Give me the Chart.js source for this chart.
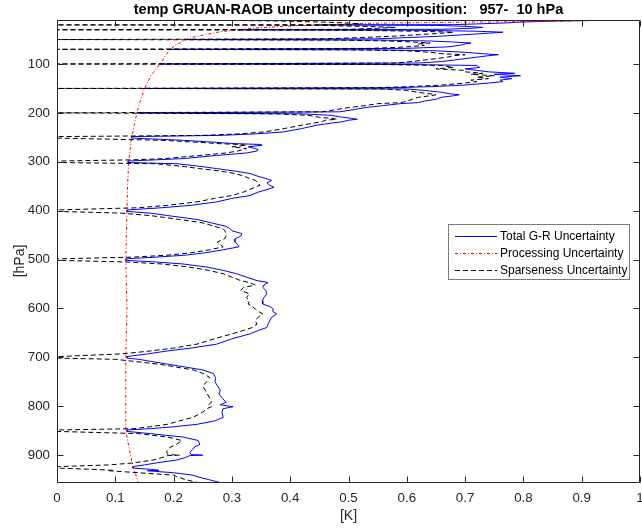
<!DOCTYPE html>
<html>
<head>
<meta charset="utf-8">
<style>
  html, body { margin: 0; padding: 0; background: #ffffff; }
  canvas { display: block; }
</style>
<script src="https://cdn.jsdelivr.net/npm/chart.js@4/dist/chart.umd.min.js"></script>
</head>
<body>
<canvas id="c" width="642" height="529"></canvas>
<script>
// ---------------- DATA ----------------
const chartTitle = 'temp GRUAN-RAOB uncertainty decomposition:   957-  10 hPa';
const xLabel = '[K]';
const yLabel = '[hPa]';
const seriesNames = ['Total G-R Uncertainty', 'Processing Uncertainty', 'Sparseness Uncertainty'];

const xTicks = [0, 0.1, 0.2, 0.3, 0.4, 0.5, 0.6, 0.7, 0.8, 0.9, 1];
const yTicks = [100, 200, 300, 400, 500, 600, 700, 800, 900];

// pressure grid [hPa] for total and sparseness
const pressure = [
  10, 11, 12, 14, 16, 18, 19.5,
  20, 21, 23, 25, 27, 29,
  30, 31, 33, 35, 37, 40, 43, 46, 48.5,
  50, 51, 53, 55, 57, 59, 62, 65, 68,
  70, 71, 73, 76, 79, 81, 83, 86, 89, 92, 95, 98,
  100, 101, 103, 107, 110, 113, 116, 119, 121, 124, 127, 130, 133, 136, 139, 143, 146, 148.5,
  150, 151, 154, 158, 161, 163, 165, 168, 172, 176, 179, 181, 185, 189, 193, 197.8,
  200, 202, 205, 209, 211, 213, 215, 218, 221, 225, 232, 239, 243, 246,
  248.5, 251.5, 256, 260, 263, 264.5, 266, 269.5, 273, 275, 278, 282, 287, 293.5, 296,
  298.5, 301.5, 304, 310, 314, 319, 324, 329, 334, 338, 343, 348, 352, 357, 362, 369, 375, 382, 389, 394,
  398.5, 401.5, 405, 410, 418, 425, 432, 437, 441, 447, 452, 458, 464, 469, 474, 480, 486, 491, 495,
  498.5, 501.5, 505, 509, 515, 522, 529, 536, 543, 547, 552, 557, 563, 570, 578, 584, 591, 596, 601, 606, 611, 618, 625, 632, 639, 645, 652, 662, 673, 681, 687, 693,
  698.5, 701.5, 704, 708, 714, 719, 726, 733, 741, 750, 758, 767, 775, 784, 792, 797, 801, 805, 812, 823, 830, 837, 842, 846,
  848.5, 851.5, 856, 863, 870, 878, 884, 888, 894, 899, 900, 901, 905, 910, 916, 920,
  923.5, 926.5, 929, 931, 932, 936, 941, 944, 950, 957
];

// Total G-R uncertainty [K]
const totalUnc = [
  0.995, 0.92, 0.86, 0.80, 0.77, 0.72, 0.68,
  0.45, 0.65, 0.70, 0.73, 0.71, 0.66,
  0.31, 0.62, 0.72, 0.765, 0.74, 0.70, 0.66, 0.60, 0.55,
  0.222, 0.55, 0.64, 0.68, 0.71, 0.70, 0.69, 0.67, 0.60,
  0.194, 0.55, 0.65, 0.70, 0.73, 0.757, 0.74, 0.72, 0.70, 0.68, 0.66, 0.62,
  0.177, 0.60, 0.72, 0.725, 0.70, 0.72, 0.74, 0.785, 0.75, 0.795, 0.76, 0.78, 0.76, 0.765, 0.74, 0.70, 0.65, 0.58,
  0.15, 0.60, 0.63, 0.66, 0.675, 0.69, 0.68, 0.66, 0.65, 0.63, 0.62, 0.59, 0.56, 0.53, 0.51, 0.485,
  0.137, 0.42, 0.47, 0.49, 0.505, 0.515, 0.50, 0.49, 0.47, 0.446, 0.42, 0.388, 0.34, 0.28,
  0.128, 0.128, 0.216, 0.27, 0.308, 0.348, 0.352, 0.328, 0.34, 0.345, 0.343, 0.325, 0.274, 0.216, 0.17,
  0.122, 0.122, 0.206, 0.25, 0.274, 0.305, 0.331, 0.343, 0.357, 0.368, 0.36, 0.365, 0.372, 0.36, 0.345, 0.331, 0.30, 0.274, 0.23, 0.18,
  0.12, 0.12, 0.16, 0.19, 0.24, 0.265, 0.29, 0.297, 0.30, 0.317, 0.315, 0.305, 0.305, 0.31, 0.312, 0.285, 0.255, 0.22, 0.17,
  0.118, 0.118, 0.17, 0.216, 0.255, 0.285, 0.308, 0.325, 0.343, 0.362, 0.355, 0.353, 0.358, 0.36, 0.355, 0.352, 0.353, 0.365, 0.371, 0.37, 0.377, 0.368, 0.365, 0.362, 0.36, 0.345, 0.331, 0.30, 0.274, 0.23, 0.189, 0.155,
  0.12, 0.12, 0.14, 0.16, 0.19, 0.216, 0.251, 0.268, 0.272, 0.271, 0.275, 0.28, 0.278, 0.284, 0.29, 0.28, 0.302, 0.285, 0.283, 0.285, 0.27, 0.24, 0.20, 0.16,
  0.12, 0.12, 0.16, 0.216, 0.242, 0.245, 0.235, 0.233, 0.228, 0.23, 0.25, 0.228, 0.22, 0.205, 0.17, 0.15,
  0.13, 0.13, 0.16, 0.175, 0.155, 0.20, 0.233, 0.24, 0.26, 0.283
];

// Sparseness uncertainty [K]
const sparseUnc = [
  0, 0.30, 0.38, 0.45, 0.50, 0.52, 0.48,
  0, 0.45, 0.52, 0.58, 0.55, 0.50,
  0, 0.50, 0.62, 0.68, 0.66, 0.62, 0.58, 0.52, 0.46,
  0, 0.48, 0.57, 0.61, 0.64, 0.62, 0.63, 0.60, 0.54,
  0, 0.50, 0.60, 0.64, 0.66, 0.70, 0.68, 0.67, 0.65, 0.63, 0.61, 0.58,
  0, 0.55, 0.66, 0.68, 0.65, 0.70, 0.70, 0.73, 0.71, 0.75, 0.72, 0.74, 0.71, 0.72, 0.70, 0.66, 0.61, 0.55,
  0, 0.56, 0.60, 0.62, 0.64, 0.65, 0.64, 0.62, 0.61, 0.60, 0.59, 0.55, 0.53, 0.50, 0.48, 0.455,
  0, 0.38, 0.43, 0.45, 0.47, 0.48, 0.46, 0.455, 0.44, 0.42, 0.39, 0.355, 0.31, 0.25,
  0, 0, 0.18, 0.24, 0.28, 0.31, 0.325, 0.30, 0.325, 0.32, 0.31, 0.29, 0.245, 0.185, 0.13,
  0, 0, 0.17, 0.22, 0.245, 0.28, 0.305, 0.32, 0.33, 0.34, 0.345, 0.348, 0.34, 0.33, 0.32, 0.30, 0.27, 0.24, 0.19, 0.14,
  0, 0, 0.11, 0.16, 0.21, 0.25, 0.27, 0.285, 0.288, 0.29, 0.29, 0.287, 0.275, 0.28, 0.285, 0.262, 0.23, 0.19, 0.13,
  0, 0, 0.12, 0.18, 0.225, 0.26, 0.285, 0.30, 0.315, 0.33, 0.34, 0.32, 0.315, 0.33, 0.325, 0.33, 0.328, 0.335, 0.34, 0.345, 0.353, 0.345, 0.34, 0.343, 0.335, 0.32, 0.30, 0.27, 0.24, 0.20, 0.16, 0.11,
  0, 0, 0.10, 0.13, 0.175, 0.20, 0.235, 0.25, 0.262, 0.257, 0.25, 0.254, 0.258, 0.262, 0.265, 0.26, 0.265, 0.257, 0.25, 0.233, 0.21, 0.189, 0.16, 0.13,
  0, 0, 0.14, 0.19, 0.214, 0.205, 0.194, 0.19, 0.188, 0.19, 0.21, 0.19, 0.18, 0.165, 0.13, 0.09,
  0, 0, 0.06, 0.096, 0.09, 0.14, 0.20, 0.205, 0.22, 0.245
];

// Processing uncertainty (smooth curve) on its own pressure grid
const procPressure = [10, 12, 13, 14, 15, 16, 17, 18, 20, 22, 25, 27, 30, 34, 40, 44, 50, 60, 70, 85, 100, 122, 150, 175, 200, 250, 300, 350, 400, 450, 500, 550, 600, 650, 700, 750, 800, 850, 875, 900, 925, 957];
const procUnc = [0.95, 0.88, 0.84, 0.75, 0.66, 0.58, 0.53, 0.50, 0.45, 0.40, 0.36, 0.335, 0.31, 0.28, 0.255, 0.237, 0.222, 0.205, 0.194, 0.185, 0.177, 0.162, 0.15, 0.143, 0.137, 0.128, 0.123, 0.121, 0.12, 0.119, 0.118, 0.119, 0.12, 0.119, 0.118, 0.118, 0.118, 0.118, 0.122, 0.126, 0.131, 0.14];

// ---------------- CHART ----------------
const FONT = '"Liberation Sans", Arial, Helvetica, sans-serif';
const AXIS_COLOR = '#262626';

function toPoints(xs, ps) { return xs.map((v, i) => ({ x: v, y: ps[i] })); }

const decor = {
  id: 'matlabDecor',
  afterDatasetsDraw(chart) {
    const ctx = chart.ctx;
    const a = chart.chartArea;
    const xs = chart.scales.x, ys = chart.scales.y;
    const L = Math.round(a.left) + 0.5, R = Math.round(a.right) - 0.5;
    const T = Math.round(a.top) + 0.5, B = Math.round(a.bottom) - 0.5;
    ctx.save();
    ctx.strokeStyle = AXIS_COLOR;
    ctx.lineWidth = 1;
    ctx.setLineDash([]);
    ctx.beginPath();
    ctx.rect(L, T, R - L, B - T);
    ctx.stroke();
    const tl = 6;
    ctx.beginPath();
    xTicks.forEach(v => {
      const px = Math.round(xs.getPixelForValue(v)) + 0.5;
      ctx.moveTo(px, B); ctx.lineTo(px, B - tl);
      ctx.moveTo(px, T); ctx.lineTo(px, T + tl);
    });
    yTicks.forEach(v => {
      const py = Math.round(ys.getPixelForValue(v)) + 0.5;
      ctx.moveTo(L, py); ctx.lineTo(L + tl, py);
      ctx.moveTo(R, py); ctx.lineTo(R - tl, py);
    });
    ctx.stroke();
    ctx.restore();
  },
  afterDraw(chart) {
    const ctx = chart.ctx;
    const a = chart.chartArea;
    ctx.save();
    // title
    ctx.fillStyle = '#000000';
    ctx.font = 'bold 14.5px ' + FONT;
    ctx.textAlign = 'center';
    ctx.textBaseline = 'middle';
    ctx.fillText(chartTitle, (a.left + a.right) / 2, 10);
    // axis labels
    ctx.fillStyle = AXIS_COLOR;
    ctx.font = '14px ' + FONT;
    ctx.fillText(xLabel, (a.left + a.right) / 2, 516);
    ctx.save();
    ctx.translate(20, 261);
    ctx.rotate(-Math.PI / 2);
    ctx.fillText(yLabel, 0, 0);
    ctx.restore();
    // legend
    const bx = 448.5, by = 224.5, bw = 181, bh = 55;
    ctx.fillStyle = '#ffffff';
    ctx.fillRect(bx, by, bw, bh);
    ctx.strokeStyle = '#7a7a7a';
    ctx.lineWidth = 1;
    ctx.strokeRect(bx, by, bw, bh);
    const rows = [236, 253, 270];
    ctx.font = '12px ' + FONT;
    ctx.textAlign = 'left';
    ctx.textBaseline = 'middle';
    chart.data.datasets.forEach((ds, i) => {
      const y = rows[i] + 0.5;
      ctx.strokeStyle = ds.borderColor;
      ctx.lineWidth = ds.borderWidth;
      ctx.setLineDash(ds.borderDash || []);
      ctx.beginPath();
      ctx.moveTo(455, y); ctx.lineTo(497, y);
      ctx.stroke();
      ctx.setLineDash([]);
      ctx.fillStyle = '#000000';
      ctx.fillText(ds.label, 500, rows[i] + 0.5);
    });
    ctx.restore();
  }
};

new Chart(document.getElementById('c'), {
  type: 'scatter',
  data: {
    datasets: [
      {
        label: seriesNames[0],
        data: toPoints(totalUnc, pressure),
        showLine: true, borderColor: '#0000ff', borderWidth: 1,
        pointRadius: 0, pointHoverRadius: 0, tension: 0, order: 2
      },
      {
        label: seriesNames[1],
        data: toPoints(procUnc, procPressure),
        showLine: true, borderColor: '#ff0000', borderWidth: 1, borderDash: [3, 2, 1, 2],
        pointRadius: 0, pointHoverRadius: 0, tension: 0, order: 1
      },
      {
        label: seriesNames[2],
        data: toPoints(sparseUnc, pressure),
        showLine: true, borderColor: '#000000', borderWidth: 1, borderDash: [5, 3],
        pointRadius: 0, pointHoverRadius: 0, tension: 0, order: 0
      }
    ]
  },
  options: {
    responsive: false,
    animation: false,
    devicePixelRatio: 1,
    layout: { padding: { top: 20, right: 2, left: 0, bottom: 0 } },
    plugins: { legend: { display: false }, tooltip: { enabled: false }, title: { display: false } },
    scales: {
      x: {
        type: 'linear', position: 'bottom', min: 0, max: 1,
        grid: { display: false, drawTicks: false },
        border: { display: false },
        ticks: {
          autoSkip: false, maxRotation: 0, padding: 7, color: AXIS_COLOR,
          font: { family: FONT, size: 13.3 },
          callback: v => String(Math.round(v * 10) / 10)
        },
        afterBuildTicks: s => { s.ticks = xTicks.map(v => ({ value: v })); },
        afterFit: s => { s.height = 46; s.paddingLeft = 0; s.paddingRight = 0; }
      },
      y: {
        type: 'linear', position: 'left', min: 10, max: 957, reverse: true,
        grid: { display: false, drawTicks: false },
        border: { display: false },
        ticks: {
          autoSkip: false, padding: 7, color: AXIS_COLOR,
          font: { family: FONT, size: 13.3 },
          callback: v => String(v)
        },
        afterBuildTicks: s => { s.ticks = yTicks.map(v => ({ value: v })); },
        afterFit: s => { s.width = 57; s.paddingTop = 0; s.paddingBottom = 0; }
      }
    }
  },
  plugins: [decor]
});
</script>
</body>
</html>
